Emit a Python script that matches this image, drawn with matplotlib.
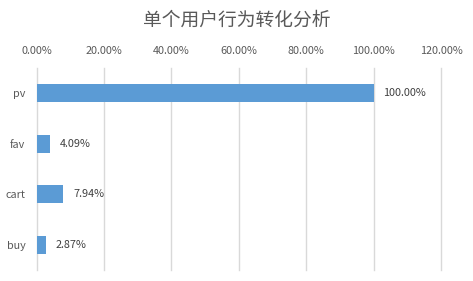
import matplotlib
matplotlib.use("Agg")
import matplotlib.pyplot as plt
from matplotlib.ticker import FuncFormatter

plt.rcParams['font.family'] = ['Noto Sans CJK SC', 'DejaVu Sans']

categories = ["pv", "fav", "cart", "buy"]
values = [1.0, 0.0409, 0.0794, 0.0287]
labels = ["100.00%", "4.09%", "7.94%", "2.87%"]
title = "单个用户行为转化分析"

fig = plt.figure(figsize=(4.73, 2.81), dpi=100)
ax = fig.add_axes([0.0772, 0.039, 0.855, 0.719])
ypos = list(range(len(categories)))
ax.barh(ypos, values, height=0.35, color="#5B9BD5", zorder=3)
ax.set_yticks(ypos)
ax.set_yticklabels(categories)
ax.set_ylim(3.5, -0.5)
ax.set_xlim(0, 1.2)
ax.set_xticks([0, 0.2, 0.4, 0.6, 0.8, 1.0, 1.2])
ax.xaxis.set_major_formatter(FuncFormatter(lambda v, p: f"{v*100:.2f}%"))
ax.xaxis.tick_top()
ax.grid(axis="x", color="#D9D9D9", linewidth=1, zorder=0)
for gl in ax.get_xgridlines():
    gl.set_clip_on(False)
for s in ax.spines.values():
    s.set_visible(False)
ax.tick_params(axis="both", length=0, labelsize=7.8, labelcolor="#595959")
ax.tick_params(axis="x", pad=9)
ax.tick_params(axis="y", pad=8)
for y, v, lab in zip(ypos, values, labels):
    ax.annotate(lab, (v, y), xytext=(7, 0), textcoords="offset points",
                va="center", ha="left", fontsize=7.8, color="#404040")
fig.text(0.5, 0.927, title, ha="center", va="center", fontsize=13.5, color="#595959")
fig.savefig("out.png", dpi=100)
